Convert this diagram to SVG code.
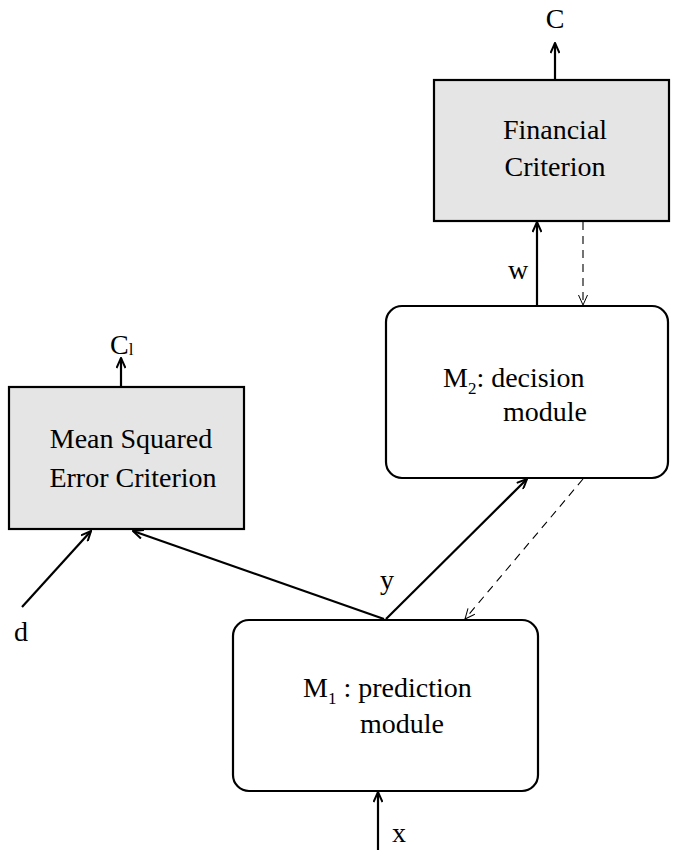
<svg xmlns="http://www.w3.org/2000/svg" width="682" height="850" viewBox="0 0 682 850">
<style>
  text { font-family: "Liberation Serif", "Times New Roman", serif; font-size: 28px; fill: #000; }
  .crit { fill: #e5e5e5; stroke: #000; stroke-width: 2.2; }
  .mod { fill: #fff; stroke: #000; stroke-width: 2.2; }
  .solid { stroke: #000; stroke-width: 2.2; fill: none; marker-end: url(#arr); }
  .dash { stroke: #000; stroke-width: 1.1; fill: none; stroke-dasharray: 8 6; marker-end: url(#arrthin); }
  .sub { font-size: 17px; }
</style>
<defs>
  <marker id="arr" viewBox="0 0 12 10" refX="11" refY="5" markerWidth="12" markerHeight="10" markerUnits="userSpaceOnUse" orient="auto">
    <path d="M1,0.5 L11,5 L1,9.5" fill="none" stroke="#000" stroke-width="2"/>
  </marker>
  <marker id="arrthin" viewBox="0 0 12 10" refX="11" refY="5" markerWidth="12" markerHeight="10" markerUnits="userSpaceOnUse" orient="auto">
    <path d="M1,0.5 L11,5 L1,9.5" fill="none" stroke="#000" stroke-width="1"/>
  </marker>
</defs>

<g id="financial">
  <rect class="crit" x="434" y="80" width="235" height="141"/>
  <text x="555" y="139" text-anchor="middle">Financial</text>
  <text x="555" y="176" text-anchor="middle">Criterion</text>
</g>

<g id="mse">
  <rect class="crit" x="9" y="387" width="235" height="142"/>
  <text x="131" y="448" text-anchor="middle">Mean Squared</text>
  <text x="133" y="487" text-anchor="middle">Error Criterion</text>
</g>

<g id="m2">
  <rect class="mod" x="386" y="306" width="282" height="172" rx="16" ry="16"/>
  <text x="443" y="387">M<tspan class="sub" dy="7">2</tspan><tspan dy="-7">: decision</tspan></text>
  <text x="545" y="421" text-anchor="middle">module</text>
</g>

<g id="m1">
  <rect class="mod" x="233" y="620" width="305" height="171" rx="16" ry="16"/>
  <text x="303" y="697">M<tspan class="sub" dy="7">1</tspan><tspan dy="-7"> : prediction</tspan></text>
  <text x="402" y="733" text-anchor="middle">module</text>
</g>

<g id="connectors">
  <line class="solid" x1="555" y1="80" x2="555" y2="43"/>
  <line class="solid" x1="537" y1="306" x2="537" y2="222"/>
  <line class="dash" x1="583" y1="222" x2="583" y2="305"/>
  <line class="solid" x1="121" y1="387" x2="121" y2="358"/>
  <line class="solid" x1="22" y1="607" x2="91" y2="531"/>
  <polyline class="solid" points="384,619 133,531"/>
  <line class="solid" x1="386" y1="619" x2="527" y2="479"/>
  <line class="dash" x1="583" y1="479" x2="465" y2="619"/>
  <line class="solid" x1="378" y1="850" x2="378" y2="792"/>
</g>

<g id="labels">
  <text x="555" y="28" text-anchor="middle">C</text>
  <text x="110" y="354">C<tspan class="sub" dy="1">l</tspan></text>
  <text x="518" y="279" text-anchor="middle">w</text>
  <text x="21" y="641" text-anchor="middle">d</text>
  <text x="387" y="589" text-anchor="middle">y</text>
  <text x="399" y="842" text-anchor="middle">x</text>
</g>
</svg>
